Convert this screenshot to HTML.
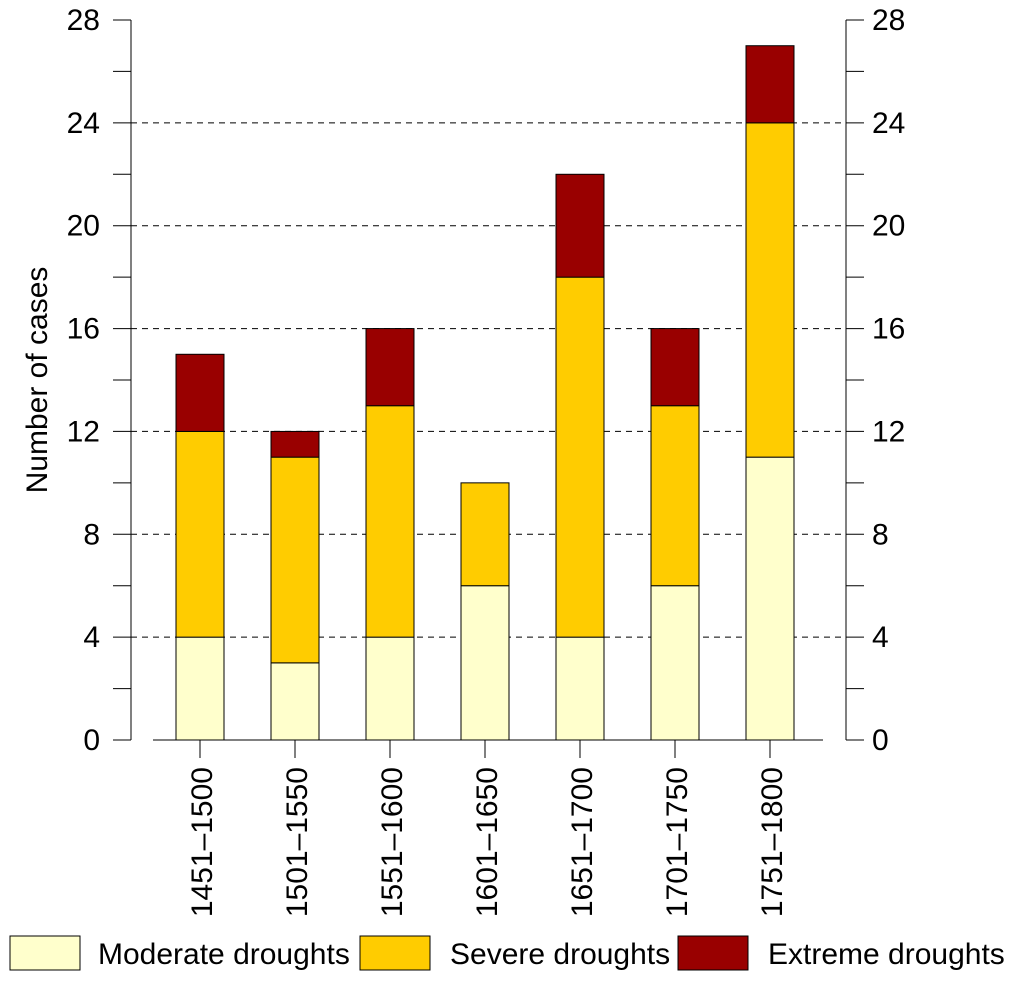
<!DOCTYPE html>
<html><head><meta charset="utf-8"><style>
body{margin:0;background:#fff;}
svg text{font-family:"Liberation Sans",Arial,sans-serif;fill:#000;}
</style></head><body>
<svg id="chart" width="1013" height="981" xmlns="http://www.w3.org/2000/svg"></svg>
<script>
const categories = ["1451\u20131500","1501\u20131550","1551\u20131600","1601\u20131650","1651\u20131700","1701\u20131750","1751\u20131800"];
const moderate = [4,3,4,6,4,6,11];
const severe = [8,8,9,4,14,7,13];
const extreme = [3,1,3,0,4,3,3];
const yTicks = [0,4,8,12,16,20,24,28];

const svgEl = document.getElementById('chart');
const NS = 'http://www.w3.org/2000/svg';
const plotLeft = 131, plotRight = 846, plotTop = 20, plotBottom = 740, yMax = 28;
const yPos = v => plotBottom - v / yMax * (plotBottom - plotTop);
const xc = i => 200 + i * 95;
const bw = 48;
function mk(tag, attrs) {
  const e = document.createElementNS(NS, tag);
  for (const k in attrs) e.setAttribute(k, attrs[k]);
  svgEl.appendChild(e);
  return e;
}
yTicks.forEach(t => {
  if (t > 0 && t < 28) {
    const g = mk('line', {x1:plotLeft, x2:plotRight, y1:yPos(t), y2:yPos(t), stroke:'#000', 'stroke-width':1, 'stroke-dasharray':'6,5'});
    
    
  }
});
const la = mk('line', {x1:plotLeft, x2:plotLeft, y1:plotTop, y2:plotBottom, stroke:'#000'});


const ra = mk('line', {x1:plotRight, x2:plotRight, y1:plotTop, y2:plotBottom, stroke:'#000'});


const ba = mk('line', {x1:153, x2:823, y1:plotBottom, y2:plotBottom, stroke:'#000'});


for (let v = 0; v <= yMax; v += 2) {
  mk('line', {x1:plotLeft - 18, x2:plotLeft, y1:yPos(v), y2:yPos(v), stroke:'#000'});
  mk('line', {x1:plotRight, x2:plotRight + 18, y1:yPos(v), y2:yPos(v), stroke:'#000'});
}
yTicks.forEach(t => {
  const a = mk('text', {x:100, y:yPos(t) + 10, 'text-anchor':'end', 'font-size':30});
  a.textContent = t;
  
  
  const b = mk('text', {x:872, y:yPos(t) + 10, 'text-anchor':'start', 'font-size':30});
  b.textContent = t;
  
  
});
const yt = mk('text', {x:0, y:0, 'text-anchor':'middle', 'font-size':30, transform:'translate(47,380) rotate(-90)'});
yt.textContent = 'Number of cases';


const series = [[moderate,'#ffffcc','moderate'],[severe,'#ffcc00','severe'],[extreme,'#990000','extreme']];
categories.forEach((c, i) => {
  let base = 0;
  series.forEach(([arr, col, nm]) => {
    const v = arr[i];
    if (v > 0) {
      const r = mk('rect', {x:xc(i) - bw/2, y:yPos(base + v), width:bw, height:yPos(base) - yPos(base + v), fill:col, stroke:'#000', 'stroke-width':1});
      
      
    }
    base += v;
  });
  mk('line', {x1:xc(i), x2:xc(i), y1:plotBottom, y2:plotBottom + 18, stroke:'#000'});
  const t = mk('text', {x:0, y:0, 'text-anchor':'end', 'font-size':30, transform:'translate(' + (xc(i) + 12) + ',767) rotate(-90)'});
  t.textContent = c;
  
  
});
const legend = [['Moderate droughts','#ffffcc',10,98],['Severe droughts','#ffcc00',360,450],['Extreme droughts','#990000',678,768]];
legend.forEach(([lab, col, bx, tx]) => {
  const r = mk('rect', {x:bx, y:936, width:70, height:34, fill:col, stroke:'#000'});
  
  
  const t = mk('text', {x:tx, y:964, 'font-size':30});
  t.textContent = lab;
  
  
});
</script>
</body></html>
